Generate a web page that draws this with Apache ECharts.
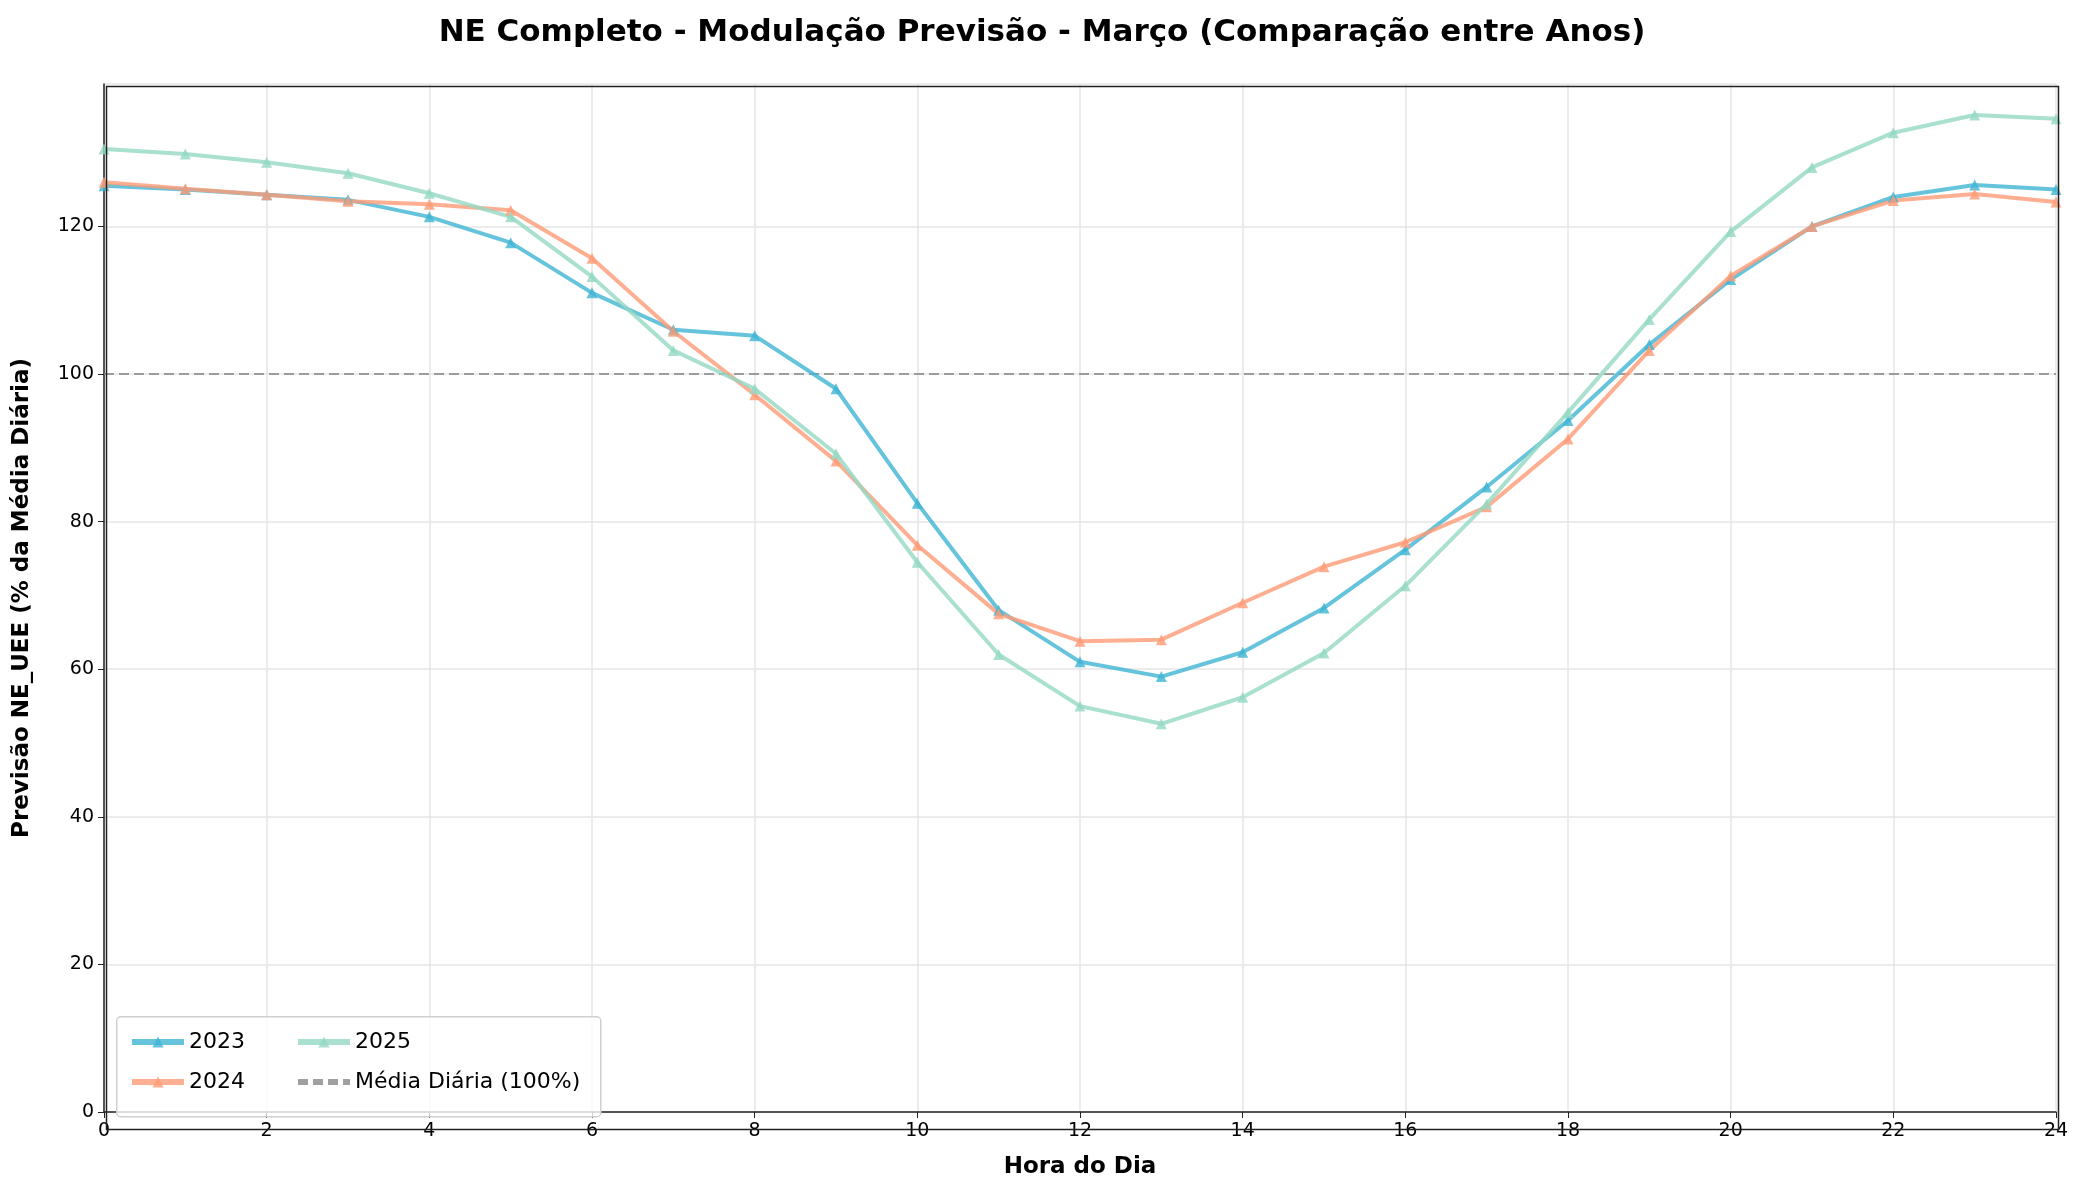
<!DOCTYPE html>
<html><head><meta charset="utf-8">
<script src="https://cdn.jsdelivr.net/npm/echarts@6/dist/echarts.min.js"></script>
<style>html,body{margin:0;padding:0;background:#fff}#c{width:2084px;height:1184px}</style>
</head><body><div id="c"></div>
<script>
var hours = [0,1,2,3,4,5,6,7,8,9,10,11,12,13,14,15,16,17,18,19,20,21,22,23,24];
var y2023 = [125.5,125,124.3,123.6,121.3,117.8,111,106,105.2,98,82.5,68,61,59,62.3,68.3,76.2,84.7,93.7,104,112.8,120,124,125.6,125];
var y2024 = [126,125.1,124.3,123.4,123,122.2,115.7,105.8,97.2,88.2,76.8,67.5,63.8,64,69,73.9,77.2,82,91.2,103.2,113.3,120,123.5,124.4,123.3];
var y2025 = [130.5,129.8,128.7,127.2,124.5,121.3,113.2,103.2,98,89.2,74.5,62,55,52.6,56.2,62.2,71.3,82.4,94.8,107.4,119.3,128,132.7,135.1,134.6];
var media = [100,100,100,100,100,100,100,100,100,100,100,100,100,100,100,100,100,100,100,100,100,100,100,100,100];

function pairs(v){ return hours.map(function(h,i){ return [h, v[i]]; }); }
function year(name, color, v){
  return {
    name: name, type: 'line', data: pairs(v),
    symbol: 'triangle', symbolSize: 11,
    lineStyle: {width: 4, color: color, opacity: 0.8},
    itemStyle: {color: color, opacity: 0.8},
    z: 3
  };
}
var font = 'DejaVu Sans';
var G = {left: 104, right: 28, top: 84, bottom: 57};
var legText = {fontFamily: font, fontSize: 22, color: '#000'};
var chart = echarts.init(document.getElementById('c'));
chart.setOption({
  animation: false,
  textStyle: {fontFamily: font},
  title: {
    text: 'NE Completo - Modulação Previsão - Março (Comparação entre Anos)',
    left: 'center', top: 12,
    textStyle: {fontFamily: font, fontSize: 31, fontWeight: 'bold', color: '#000'}
  },
  grid: G,
  xAxis: {
    type: 'value', min: 0, max: 24, interval: 2,
    name: 'Hora do Dia', nameLocation: 'middle', nameGap: 44,
    nameTextStyle: {fontFamily: font, fontSize: 23, fontWeight: 'bold', color: '#000'},
    axisLine: {lineStyle: {color: '#222', width: 1.5}},
    axisTick: {show: true, length: 6, lineStyle: {color: '#222'}},
    axisLabel: {fontFamily: font, fontSize: 19, color: '#000', margin: 10},
    splitLine: {lineStyle: {color: '#e6e6e6', width: 1.5}}
  },
  yAxis: {
    type: 'value', min: 0, max: 139.3, interval: 20,
    name: 'Previsão NE_UEE (% da Média Diária)', nameLocation: 'middle', nameGap: 70,
    nameTextStyle: {fontFamily: font, fontSize: 23, fontWeight: 'bold', color: '#000'},
    axisLine: {show: true, lineStyle: {color: '#222', width: 1.5}},
    axisTick: {show: true, length: 6, lineStyle: {color: '#222'}},
    axisLabel: {fontFamily: font, fontSize: 19, color: '#000', showMaxLabel: false, margin: 10},
    splitLine: {lineStyle: {color: '#e6e6e6', width: 1.5}}
  },
  graphic: [{
    type: 'rect', left: G.left, top: G.top, shape: {width: 2084 - G.left - G.right, height: 1184 - G.top - G.bottom},
    style: {fill: 'none', stroke: '#222', lineWidth: 1.5}, z: 20, silent: true
  }, {
    type: 'rect', left: 116, top: 1016, shape: {width: 484, height: 100, r: 4},
    style: {fill: 'rgba(255,255,255,0.8)', stroke: '#d0d0d0', lineWidth: 1.5}, z: 10
  }],
  legend: [
    {data: ['2023', '2024'], orient: 'vertical', left: 124, top: 1026, itemGap: 18, itemWidth: 52, itemHeight: 14, z: 11,
      lineStyle: {width: 6}, textStyle: legText},
    {data: ['2025', {name: 'Média Diária (100%)', itemStyle: {opacity: 0}}], orient: 'vertical', left: 290, top: 1026, itemGap: 18, itemWidth: 52, itemHeight: 14, z: 11,
      lineStyle: {width: 6}, textStyle: legText}
  ],
  series: [
    year('2023', '#3fb4d3', y2023),
    year('2024', '#ff9b76', y2024),
    year('2025', '#93d8c3', y2025),
    {name: 'Média Diária (100%)', type: 'line', data: pairs(media), symbol: 'none',
      lineStyle: {type: [10, 5], width: 2, color: '#888', opacity: 0.8}, itemStyle: {color: '#999'}, z: 2}
  ]
});
</script></body></html>
